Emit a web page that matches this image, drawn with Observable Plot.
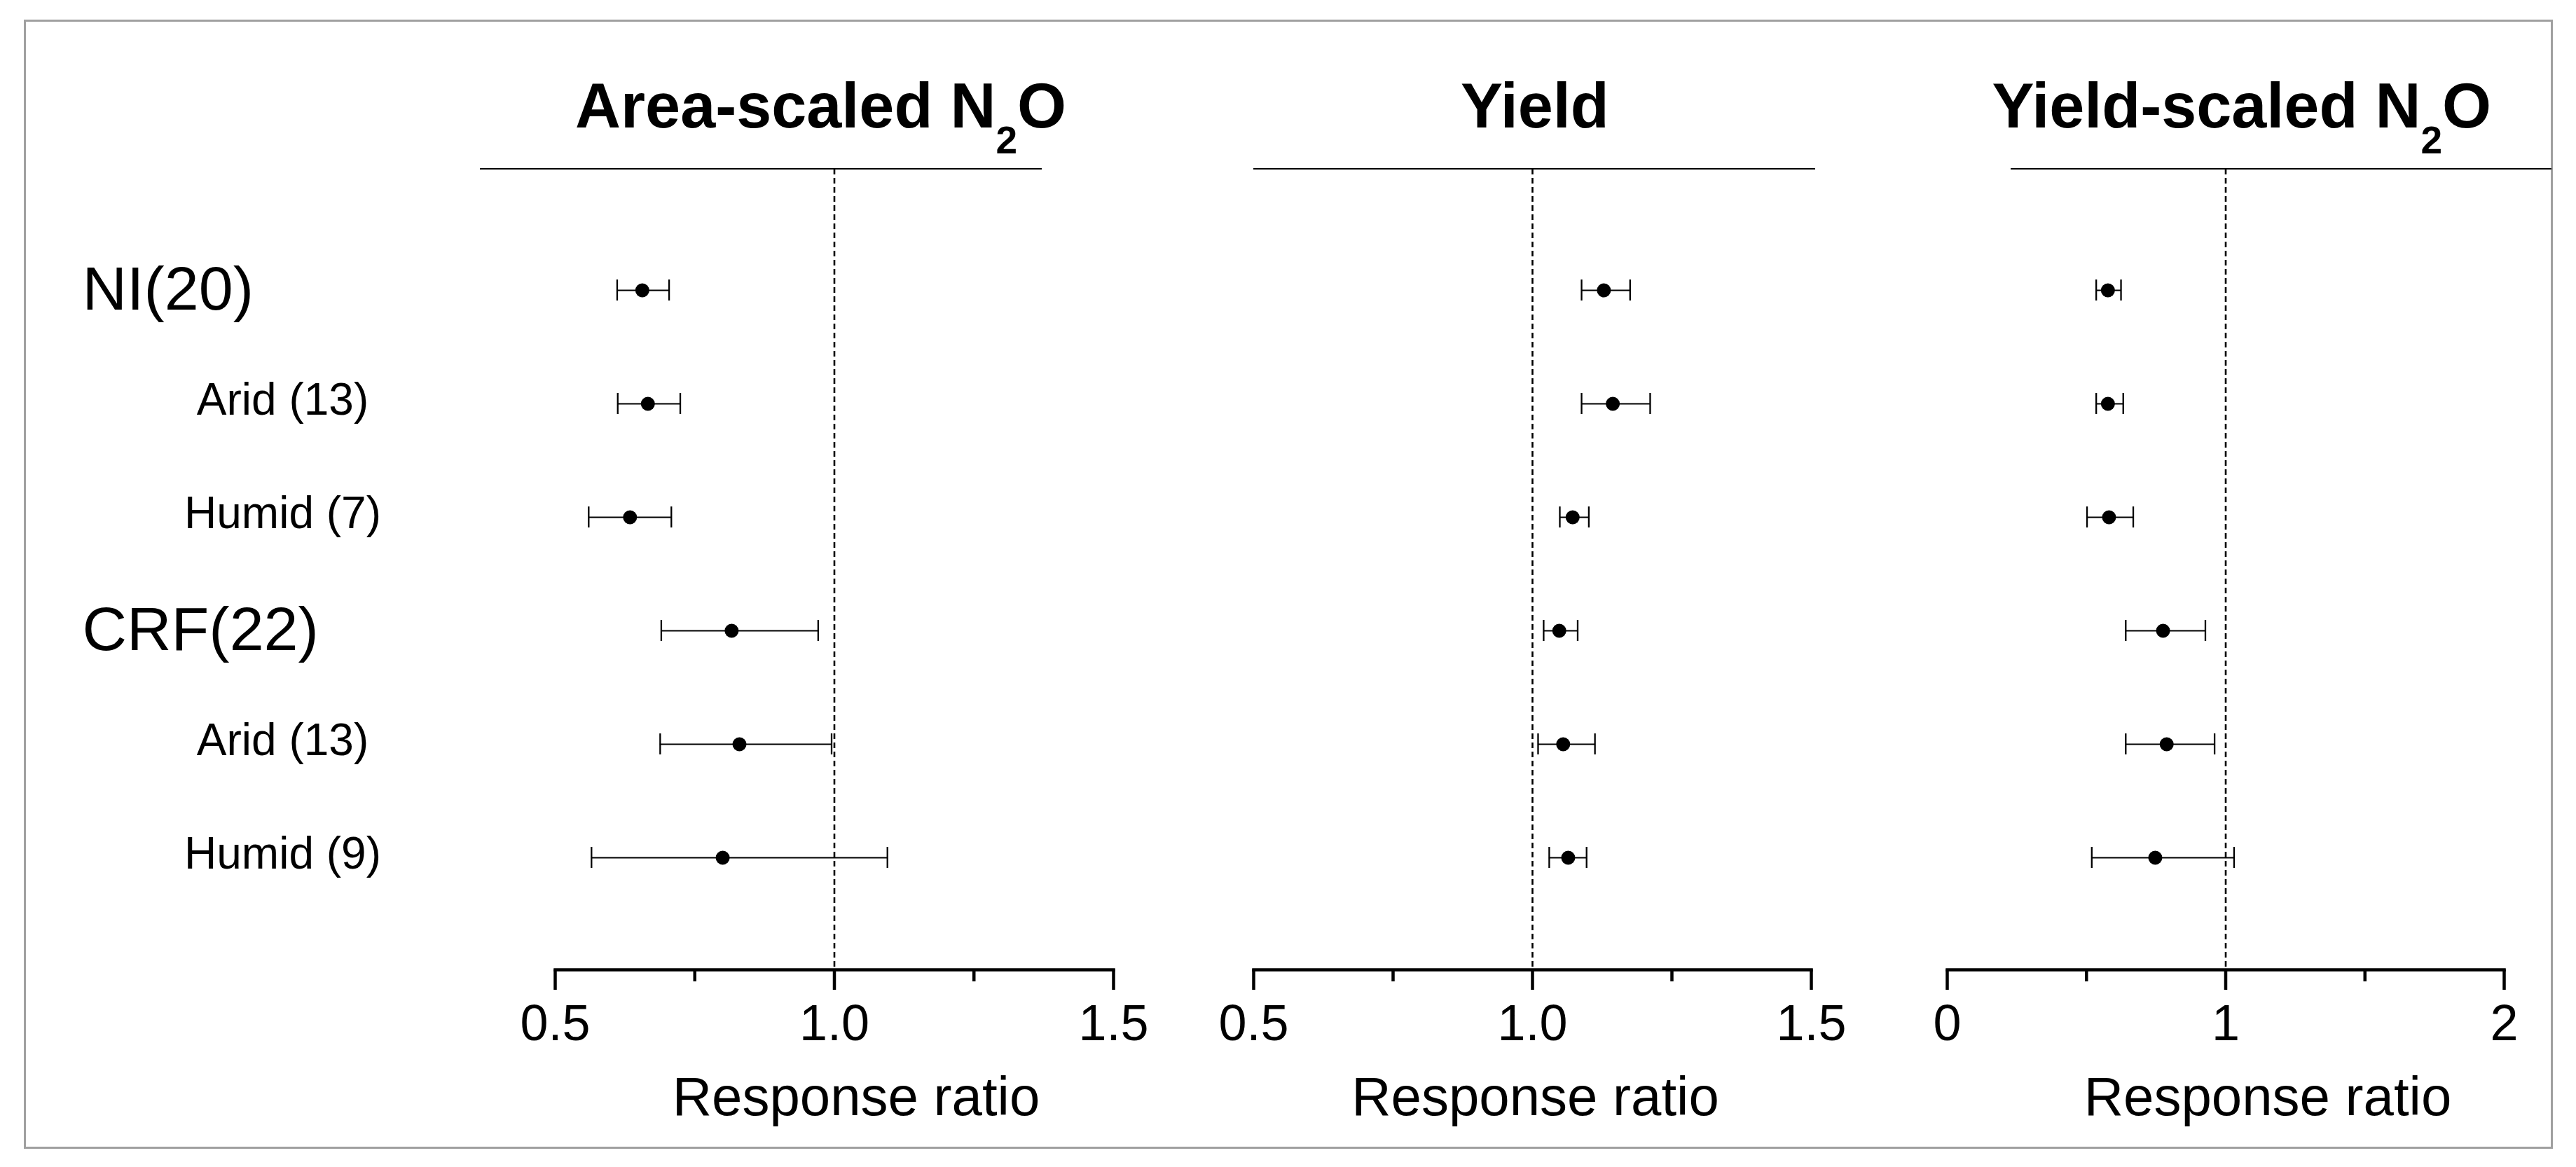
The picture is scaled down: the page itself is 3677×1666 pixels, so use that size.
<!DOCTYPE html>
<html>
<head>
<meta charset="utf-8">
<script src="https://cdn.jsdelivr.net/npm/d3@7"></script>
<script src="https://cdn.jsdelivr.net/npm/@observablehq/plot@0.6"></script>
<style>
  html, body { margin: 0; padding: 0; background: #fff; }
  #wrap { position: relative; width: 3677px; height: 1666px; overflow: hidden;
          font-family: "Liberation Sans", Arial, sans-serif; color: #000; }
  #wrap svg { position: absolute; left: 0; top: 0; }
  .border { position: absolute; left: 34px; top: 28px; width: 3610px; height: 1612px;
            border: 3px solid #a0a0a0; box-sizing: border-box; }
  .title { position: absolute; top: 106px; font-weight: bold; font-size: 90px; line-height: 90px;
           white-space: nowrap; }
  .title .sub { font-size: 55px; position: relative; top: 37px; }
  .tline { position: absolute; top: 240px; height: 0; border-top: 2.5px solid #000; }
</style>
</head>
<body>
<div id="wrap">
  <div class="border"></div>
</div>
<script>
// ---- data ----
const rowIds    = ["NI", "NI-Arid", "NI-Humid", "CRF", "CRF-Arid", "CRF-Humid"];
const rowLabels = ["NI(20)", "Arid (13)", "Humid (7)", "CRF(22)", "Arid (13)", "Humid (9)"];
const rowLevel  = [0, 1, 1, 0, 1, 1];

const areaMean = [0.656, 0.666, 0.634, 0.816, 0.830, 0.800];
const areaLow  = [0.611, 0.612, 0.560, 0.690, 0.688, 0.565];
const areaHigh = [0.704, 0.724, 0.708, 0.971, 0.995, 1.095];

const yieldMean = [1.128, 1.144, 1.072, 1.048, 1.055, 1.064];
const yieldLow  = [1.088, 1.088, 1.049, 1.020, 1.010, 1.030];
const yieldHigh = [1.175, 1.211, 1.101, 1.081, 1.112, 1.097];

const ysMean = [0.577, 0.577, 0.581, 0.775, 0.788, 0.747];
const ysLow  = [0.535, 0.535, 0.502, 0.641, 0.641, 0.519];
const ysHigh = [0.624, 0.632, 0.668, 0.927, 0.960, 1.030];

const majorTicksA = [0.5, 1.0, 1.5];
const minorTicksA = [0.75, 1.25];
const tickLabelsA = ["0.5", "1.0", "1.5"];
const majorTicksB = [0, 1, 2];
const minorTicksB = [0.5, 1.5];
const tickLabelsB = ["0", "1", "2"];

const axisTitle = "Response ratio";

// ---- layout ----
const W = 3677, H = 1666;
const FONT = "Liberation Sans, Arial, sans-serif";
const wrap = document.getElementById("wrap");
const CAP = (162 - 30) / 2; // inset so error-bar caps are 30px tall within a 162px band

function panel({domain, left, right, mean, lo, hi, major, minor, labels, labelDx, rowText}) {
  const data = rowIds.map((id, i) => ({id, label: rowLabels[i], level: rowLevel[i],
                                       mean: mean[i], lo: lo[i], hi: hi[i]}));
  const marks = [
    Plot.ruleX([1], {stroke: "#000", strokeWidth: 2.6, strokeDasharray: "8,5"}),
    Plot.frame({anchor: "bottom", stroke: "#000", strokeWidth: 4.5}),
    Plot.axisX(major, {anchor: "bottom", tickSize: 29, tickPadding: 20, strokeWidth: 4.5,
                       fontSize: 72, fill: "#000", label: null,
                       tickFormat: d => labels[major.indexOf(d)]}),
    Plot.axisX(minor, {anchor: "bottom", tickSize: 17, strokeWidth: 4.5, label: null,
                       tickFormat: () => ""}),
    Plot.ruleY(data, {y: "id", x1: "lo", x2: "hi", stroke: "#000", strokeWidth: 2}),
    Plot.tickX(data, {x: "lo", y: "id", insetTop: CAP, insetBottom: CAP, stroke: "#000", strokeWidth: 2.3}),
    Plot.tickX(data, {x: "hi", y: "id", insetTop: CAP, insetBottom: CAP, stroke: "#000", strokeWidth: 2.3}),
    Plot.dot(data, {x: "mean", y: "id", r: 10, fill: "#000", stroke: null}),
    Plot.text([axisTitle], {text: d => d, frameAnchor: "bottom", lineAnchor: "middle",
                            dx: labelDx, dy: 183, fontSize: 78, fill: "#000"})
  ];
  if (rowText) {
    marks.push(
      Plot.text(data.filter(d => d.level === 0), {y: "id", text: "label", frameAnchor: "left",
        textAnchor: "start", dx: 117 - left, dy: -1, fontSize: 88, fill: "#000"}),
      Plot.text(data.filter(d => d.level === 1), {y: "id", text: "label", frameAnchor: "left",
        textAnchor: "middle", dx: 403 - left, dy: -5, fontSize: 64, fill: "#000"})
    );
  }
  return Plot.plot({
    width: W, height: H,
    marginLeft: left, marginRight: W - right, marginTop: 241, marginBottom: H - 1384,
    x: {domain, ticks: major},
    y: {type: "band", domain: rowIds, range: [333, 1305], padding: 0, axis: null},
    style: {fontFamily: FONT, background: "transparent", overflow: "visible", color: "#000"},
    marks
  });
}

wrap.appendChild(panel({domain: [0.5, 1.5], left: 792, right: 1589,
  mean: areaMean, lo: areaLow, hi: areaHigh, major: majorTicksA, minor: minorTicksA,
  labels: tickLabelsA, labelDx: 31, rowText: true}));
wrap.appendChild(panel({domain: [0.5, 1.5], left: 1789, right: 2585,
  mean: yieldMean, lo: yieldLow, hi: yieldHigh, major: majorTicksA, minor: minorTicksA,
  labels: tickLabelsA, labelDx: 4, rowText: false}));
wrap.appendChild(panel({domain: [0, 2], left: 2779, right: 3574,
  mean: ysMean, lo: ysLow, hi: ysHigh, major: majorTicksB, minor: minorTicksB,
  labels: tickLabelsB, labelDx: 60, rowText: false}));

// ---- titles with rule lines ----
const titles = [
  {html: 'Area-scaled N<span class="sub">2</span>O', right: 1522, line: [685, 1487]},
  {html: 'Yield', left: 2085, line: [1789, 2591]},
  {html: 'Yield-scaled N<span class="sub">2</span>O', right: 3556, line: [2870, 3642]}
];
for (const t of titles) {
  const d = document.createElement("div");
  d.className = "title";
  d.innerHTML = t.html;
  if (t.right != null) d.style.right = (W - t.right) + "px"; else d.style.left = t.left + "px";
  wrap.appendChild(d);
  const l = document.createElement("div");
  l.className = "tline";
  l.style.left = t.line[0] + "px";
  l.style.width = (t.line[1] - t.line[0]) + "px";
  wrap.appendChild(l);
}
</script>
</body>
</html>
